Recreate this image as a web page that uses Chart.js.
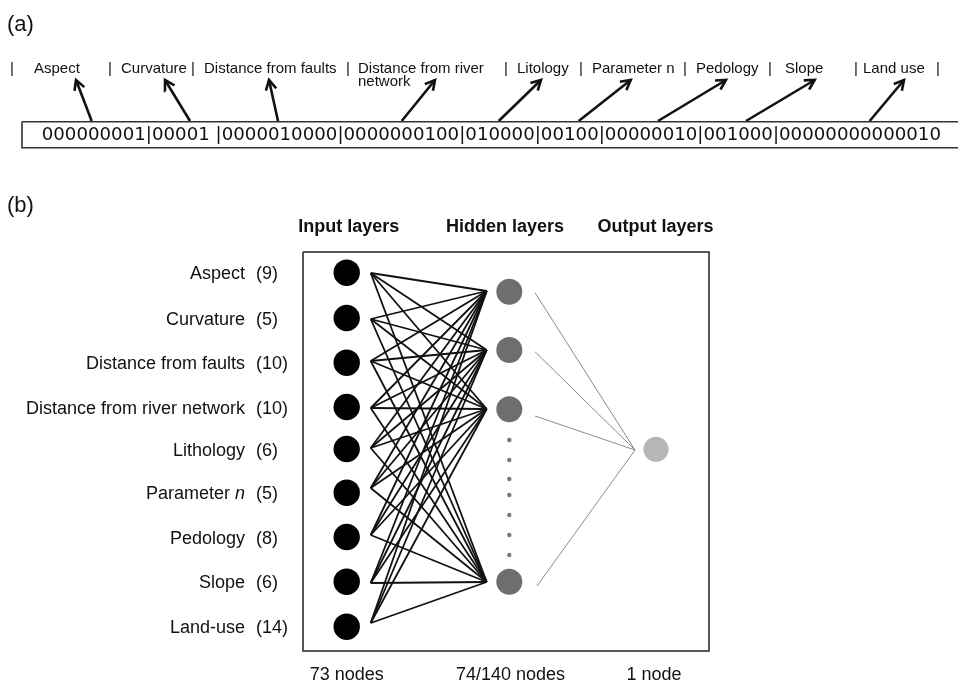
<!DOCTYPE html>
<html>
<head>
<meta charset="utf-8">
<script src="https://cdn.jsdelivr.net/npm/chart.js@4/dist/chart.umd.min.js"></script>
<style>
html,body{margin:0;padding:0;background:#fff;}
#wrap{width:958px;height:684px;}
</style>
</head>
<body>
<div id="wrap"><canvas id="c" width="958" height="684"></canvas></div>
<script>
// ---------- Panel (a): binary encoding ----------
const featureNames = ['Aspect','Curvature','Distance from faults','Distance from river','Litology','Parameter n','Pedology','Slope','Land use'];
const featureNamesLine2 = ['','','','network','','','','',''];
const featureLabelX = [34,121,204,358,517,592,696,785,863];
const separatorX = [12,110,193,348,506,581,685,770,856,938];
const codeSegments = ['000000001','00001 ','0000010000','0000000100','010000','00100','00000010','001000','00000000000010'];
const arrowTailX = [91.7,190,278,401.7,498.7,578.7,658,746,869.7];
const arrowHeadX = [76,165,269,435,541,630.7,726,814.7,904];
const arrowTailY = [121,121,121,121,121,121,121,121,121];
const arrowHeadY = [80,80,80,80,80,80,80,80,80];

// ---------- Panel (b): network ----------
const inputLabels = ['Aspect','Curvature','Distance from faults','Distance from river network','Lithology','Parameter |n|','Pedology','Slope','Land-use'];
const inputCounts = [9,5,10,10,6,5,8,6,14];
const inputNodeY = [272.7,318,362.7,407,449,492.7,537,581.7,626.7];
const inputLineY = [273,319,361,408,448,488,535,583,623];
const hiddenNodeY = [291.7,350,409.3,581.7];
const hiddenLineY = [291,350,409,582];
const hiddenOutY = [292.7,351.7,416,586];
const hiddenDotsY = [440,460,479,495,515,535,555];
const outputNodeY = [449.3];
const layerNames = ['Input layers','Hidden layers','Output layers'];
const layerNodeCounts = ['73 nodes','74/140 nodes','1 node'];
const layerX = [346.7,509.3,656];
const layerTitleX = [348.7,505,655.5];
const layerFootX = [346.7,510.5,654];

// layout constants (figure units)
const inputLineX = 370.7, hiddenLineX = 486.7, hiddenOutX = [535,535,535,537], outConvX = 635, outConvY = 450;

const datasets = [];
function seg(pts, color, width, order, join){
  datasets.push({data: pts.map(p=>({x:p[0],y:p[1]})), showLine:true, pointRadius:0, pointHoverRadius:0,
    borderColor:color, borderWidth:width, fill:false, tension:0, clip:false, order:order,
    borderJoinStyle: join||'miter', borderCapStyle:'butt'});
}
// box (a)
seg([[22,121.7],[975,121.7],[975,147.7],[22,147.7],[22,121.7]], '#333', 1.6, 2);
// arrows (a)
for(let i=0;i<arrowTailX.length;i++){
  const tx=arrowTailX[i], ty=arrowTailY[i], hx=arrowHeadX[i], hy=arrowHeadY[i];
  seg([[tx,ty],[hx,hy]], '#111', 2.6, 2);
  const ang = Math.atan2(ty-hy, tx-hx), L=11, a=0.5;
  seg([[hx+L*Math.cos(ang+a), hy+L*Math.sin(ang+a)],[hx,hy],[hx+L*Math.cos(ang-a), hy+L*Math.sin(ang-a)]], '#111', 2.6, 2);
}
// box (b)
seg([[303,252],[709,252],[709,651],[303,651],[303,252]], '#222', 1.5, 2);
// input -> hidden
for(let i=0;i<inputLineY.length;i++){
  for(let j=0;j<hiddenLineY.length;j++){
    seg([[inputLineX,inputLineY[i]],[hiddenLineX,hiddenLineY[j]]], '#111', 1.8, 2);
  }
}
// hidden -> output
for(let j=0;j<hiddenOutY.length;j++){
  seg([[hiddenOutX[j],hiddenOutY[j]],[outConvX,outConvY]], '#8a8a8a', 1, 2);
}
// nodes
function nodes(xs, ys, r, color){
  datasets.push({data: ys.map((y,i)=>({x:xs[i],y:y})), showLine:false, pointRadius:r, pointHoverRadius:r,
    pointBackgroundColor:color, pointBorderColor:color, pointBorderWidth:0, clip:false, order:0});
}
nodes(inputNodeY.map(()=>layerX[0]), inputNodeY, 13.2, '#000');
nodes(hiddenNodeY.map(()=>layerX[1]), hiddenNodeY, 13, '#6e6e6e');
nodes(hiddenDotsY.map(()=>layerX[1]), hiddenDotsY, 2.2, '#777');
nodes(outputNodeY.map(()=>layerX[2]), outputNodeY, 12.5, '#b6b6b6');

const SANS = '"Liberation Sans", Arial, sans-serif';
const textPlugin = {
  id:'texts',
  afterDatasetsDraw(chart){
    const c = chart.ctx, X = v=>chart.scales.x.getPixelForValue(v), Y = v=>chart.scales.y.getPixelForValue(v);
    c.save();
    c.fillStyle = '#111';
    c.textBaseline = 'alphabetic';
    // panel letters
    c.font = '22px '+SANS; c.textAlign='left';
    c.fillText('(a)', X(7), Y(31));
    c.fillText('(b)', X(7), Y(212));
    // (a) labels
    c.font = '15px '+SANS;
    featureNames.forEach((t,i)=>{ c.textAlign='left'; c.fillText(t, X(featureLabelX[i]), Y(73)); if(featureNamesLine2[i]) c.fillText(featureNamesLine2[i], X(featureLabelX[i]), Y(86)); });
    separatorX.forEach(x=>{ c.textAlign='center'; c.fillText('|', X(x), Y(73)); });
    // code string
    c.textAlign='left';
    c.font = '18.5px "DejaVu Sans", sans-serif';
    const code = codeSegments.join('|');
    const w = c.measureText(code).width, target = X(941)-X(41.7);
    c.save(); c.translate(X(41.7), Y(139.5)); c.scale(target/w, 1); c.fillText(code, 0, 0); c.restore();
    // (b) layer titles
    c.font = 'bold 18px '+SANS; c.textAlign='center';
    layerNames.forEach((t,i)=>c.fillText(t, X(layerTitleX[i]), Y(232)));
    c.font = '18px '+SANS;
    layerNodeCounts.forEach((t,i)=>c.fillText(t, X(layerFootX[i]), Y(680)));
    // input labels
    inputLabels.forEach((t,i)=>{
      const yb = Y(inputNodeY[i]+6.5);
      const parts = t.split('|');
      let x = X(245);
      c.textAlign='right';
      for(let k=parts.length-1;k>=0;k--){
        c.font = (k%2===1 ? 'italic ' : '') + '18px '+SANS;
        c.fillText(parts[k], x, yb);
        x -= c.measureText(parts[k]).width;
      }
      c.font = '18px '+SANS; c.textAlign='left';
      c.fillText('('+inputCounts[i]+')', X(256), yb);
    });
    c.restore();
  }
};

new Chart(document.getElementById('c'), {
  type:'scatter',
  data:{datasets},
  options:{
    responsive:false, animation:false, events:[],
    layout:{padding:0, autoPadding:false},
    plugins:{legend:{display:false}, tooltip:{enabled:false}},
    scales:{
      x:{type:'linear', min:0, max:958, display:false},
      y:{type:'linear', min:0, max:684, reverse:true, display:false}
    }
  },
  plugins:[textPlugin]
});
</script>
</body>
</html>
